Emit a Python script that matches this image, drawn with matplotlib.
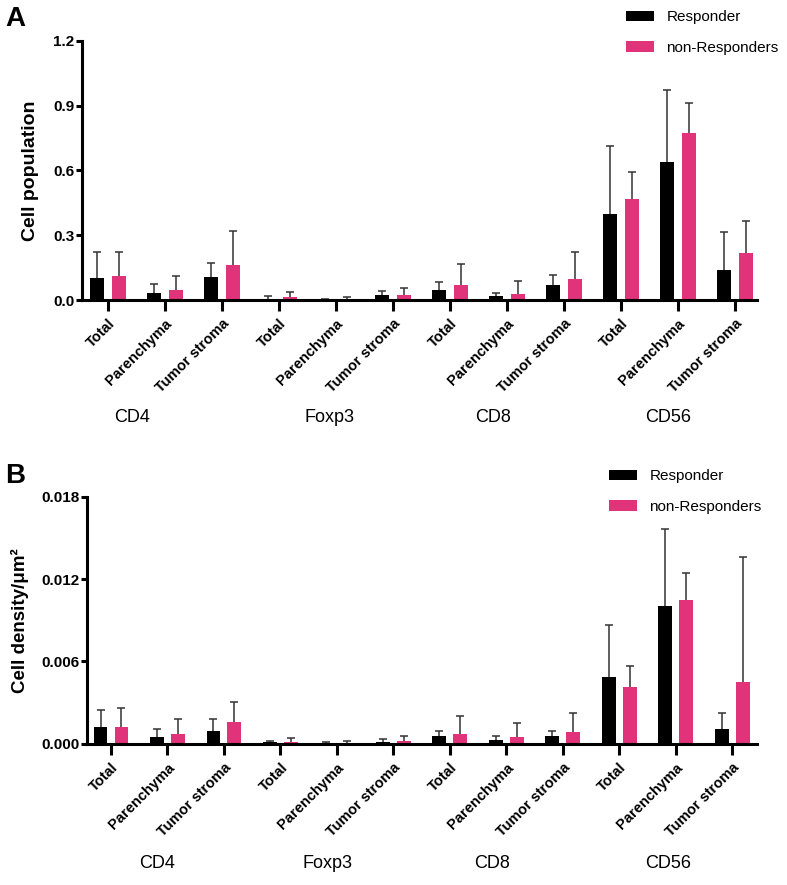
import numpy as np
import matplotlib
matplotlib.use('Agg')
import matplotlib.pyplot as plt
from matplotlib.patches import Patch

plt.rcParams['font.family'] = ['Liberation Sans', 'DejaVu Sans']

CATEGORIES = ['Total', 'Parenchyma', 'Tumor stroma'] * 4
MARKERS = ['CD4', 'Foxp3', 'CD8', 'CD56']
SERIES = ['Responder', 'non-Responders']

# panel A: cell population (mean, upper SD)
pop_resp = [0.100, 0.031, 0.105, 0.005, 0.003, 0.022, 0.045, 0.017, 0.069, 0.398, 0.637, 0.140]
pop_resp_sd = [0.120, 0.041, 0.067, 0.012, 0.002, 0.019, 0.037, 0.015, 0.045, 0.317, 0.335, 0.177]
pop_non = [0.111, 0.046, 0.163, 0.012, 0.002, 0.022, 0.068, 0.028, 0.097, 0.466, 0.775, 0.217]
pop_non_sd = [0.109, 0.063, 0.157, 0.025, 0.010, 0.032, 0.097, 0.061, 0.123, 0.128, 0.136, 0.148]

# panel B: cell density per um^2
dens_resp = [0.00120, 0.00051, 0.00095, 0.00010, 0.00005, 0.00015,
             0.00054, 0.00025, 0.00058, 0.00484, 0.01001, 0.00105]
dens_resp_sd = [0.00126, 0.00059, 0.00087, 0.00010, 0.00005, 0.00021,
                0.00036, 0.00029, 0.00035, 0.00381, 0.00561, 0.00117]
dens_non = [0.00120, 0.00070, 0.00160, 0.00012, 0.00005, 0.00020,
            0.00070, 0.00047, 0.00087, 0.00415, 0.01050, 0.00448]
dens_non_sd = [0.00138, 0.00112, 0.00142, 0.00032, 0.00015, 0.00038,
               0.00130, 0.00106, 0.00139, 0.00151, 0.00194, 0.00915]

COLORS = ['#000000', '#E0337A']
W, H = 787, 885


def px(x, y):
    return x / W, 1 - y / H


def panel(rect, xlim, means, sds, yticks, fmt, ylabel, ylsize, lpad):
    ax = fig.add_axes(rect)
    x = np.arange(len(CATEGORIES))
    for off, m, s, c in zip((-0.185, 0.185), means, sds, COLORS):
        ax.bar(x + off, m, width=0.245, color=c, edgecolor='none', zorder=2)
        _, caps, _ = ax.errorbar(x + off, m, yerr=[np.zeros(len(s)), s],
                                 fmt='none', ecolor='#333333',
                                 elinewidth=1.1, capsize=3, capthick=1.1,
                                 zorder=1)
        caps[0].set_visible(False)  # only the upper whisker
    ax.set_xlim(*xlim)
    ax.set_ylim(yticks[0], yticks[-1])
    ax.set_yticks(yticks)
    ax.set_yticklabels([fmt.format(v) for v in yticks],
                       fontsize=11, fontweight='bold')
    ax.set_xticks(x)
    ax.set_xticklabels(CATEGORIES, rotation=45, ha='right', va='top',
                       rotation_mode='anchor', fontsize=10.5,
                       fontweight='bold')
    ax.set_ylabel(ylabel, fontsize=ylsize, fontweight='bold', labelpad=lpad)
    for sp in ('top', 'right'):
        ax.spines[sp].set_visible(False)
    for sp in ('left', 'bottom'):
        ax.spines[sp].set_linewidth(2.2)
    ax.tick_params(axis='y', length=4.5, width=2.2, pad=1)
    ax.tick_params(axis='x', length=8, width=2.2, pad=4)
    return ax


fig = plt.figure(figsize=(W / 100, H / 100), dpi=100)

# panel A
l, b = px(82, 300)
ax_a = panel([l, b, 675 / W, 259.3 / H], (-0.456, 11.386),
             (pop_resp, pop_non), (pop_resp_sd, pop_non_sd),
             [0.0, 0.3, 0.6, 0.9, 1.2], '{:.1f}', 'Cell population', 14, 10)

# panel B
l, b = px(87, 743.7)
ax_b = panel([l, b, 670 / W, 247 / H], (-0.425, 11.44),
             (dens_resp, dens_non), (dens_resp_sd, dens_non_sd),
             [0.0, 0.006, 0.012, 0.018], '{:.3f}', 'Cell density/μm²', 13.5, 9)

handles = [Patch(facecolor=c, edgecolor='none') for c in COLORS]
for (lx, ty) in ((626, 10), (609, 469)):
    fig.legend(handles, SERIES, loc='upper left', bbox_to_anchor=px(lx, ty),
               frameon=False, fontsize=11, handlelength=1.85,
               handleheight=0.65, labelspacing=1.1, handletextpad=0.8,
               borderpad=0, borderaxespad=0)

for xs, y in (((132, 330, 493, 668), 418), ((157, 327, 492, 668), 863)):
    for xm, name in zip(xs, MARKERS):
        fig.text(*px(xm, y), name, ha='center', va='center', fontsize=13)

fig.text(*px(5, 6), 'A', ha='left', va='top', fontsize=20, fontweight='bold')
fig.text(*px(5, 463), 'B', ha='left', va='top', fontsize=20, fontweight='bold')

fig.savefig('out.png', dpi=100)
